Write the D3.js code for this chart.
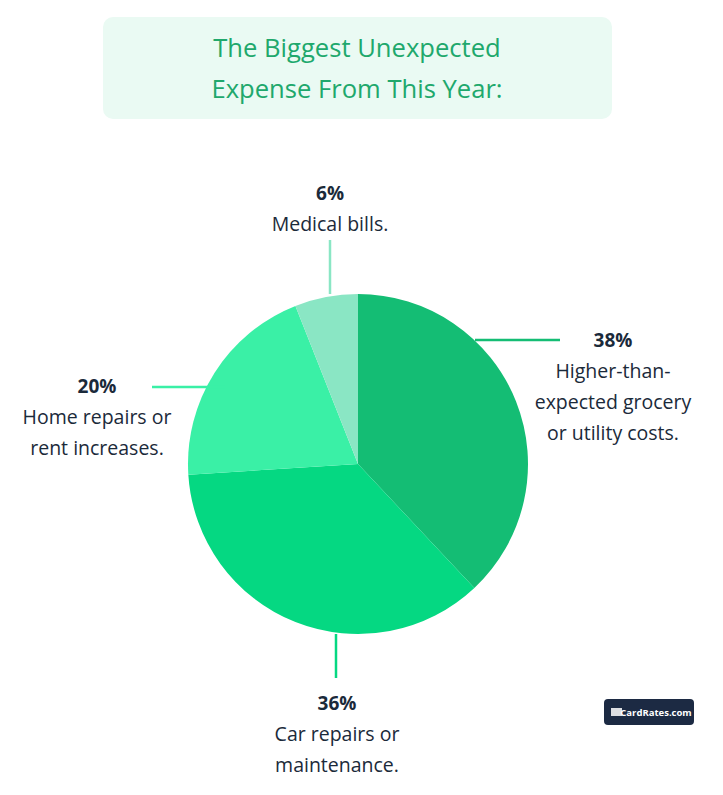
<!DOCTYPE html><html><head><meta charset="utf-8">
<script src="https://cdn.jsdelivr.net/npm/d3@7"></script>
<style>body{margin:0;background:#fff}svg{display:block}</style></head><body>
<script>
const categories=["Higher-than-expected grocery or utility costs.","Car repairs or maintenance.","Home repairs or rent increases.","Medical bills."];
const values=[38,36,20,6];
const labelLines=[["Higher-than-","expected grocery","or utility costs."],["Car repairs or","maintenance."],["Home repairs or","rent increases."],["Medical bills."]];
const colors=["#14bd74","#05d882","#3af0a6","#8ae6c4"];
const W=723,H=795,cx=358,cy=464,R=170;
const svg=d3.select("body").append("svg").attr("width",W).attr("height",H);
svg.append("rect").attr("x",103).attr("y",17).attr("width",509).attr("height",102).attr("rx",10).attr("fill","#eafaf3");
svg.append("text").attr("x",357).attr("y",57).attr("text-anchor","middle").attr("font-family","Open Sans").attr("font-size",25.6).attr("fill","#20a86c").text("The Biggest Unexpected");
svg.append("text").attr("x",357).attr("y",98).attr("text-anchor","middle").attr("font-family","Open Sans").attr("font-size",25.6).attr("fill","#20a86c").text("Expense From This Year:");
const pie=d3.pie().sort(null)(values);
const arc=d3.arc().innerRadius(0).outerRadius(R);
const g=svg.append("g").attr("transform",`translate(${cx},${cy})`);
g.selectAll("path").data(pie).join("path").attr("d",arc).attr("fill",(d,i)=>colors[i]);
const lead=[[[117,-124],[202,-124]],[[-22,170],[-22,214]],[[-133,-77],[-206,-77]],[[-28,-170],[-28,-224]]];
const lab=[[255,-124],[-21,239],[-261,-78],[-28,-271]];
lead.forEach((l,i)=>g.append("line").attr("x1",l[0][0]).attr("y1",l[0][1]).attr("x2",l[1][0]).attr("y2",l[1][1]).attr("stroke",colors[i]).attr("stroke-width",2.5));
pie.forEach((d,i)=>{
 const t=g.append("g").attr("transform",`translate(${lab[i][0]},${lab[i][1]})`).attr("font-family","Open Sans").attr("fill","#1b2a3a").attr("text-anchor","middle");
 t.append("text").attr("y",7).attr("font-size",19).attr("font-weight",700).text(values[i]+"%");
 labelLines[i].forEach((s,j)=>t.append("text").attr("y",38+j*31).attr("font-size",19.5).text(s));
});
const lg=svg.append("g").attr("transform","translate(604,699)");
lg.append("rect").attr("width",90).attr("height",26).attr("rx",4).attr("fill","#1c2a43");
lg.append("text").attr("x",52).attr("y",17).attr("text-anchor","middle").attr("font-family","Open Sans").attr("font-weight",700).attr("font-size",9.5).attr("fill","#fff").text("CardRates.com");
lg.append("rect").attr("x",7).attr("y",9).attr("width",11).attr("height",8).attr("fill","#fff").attr("opacity",0.85);
</script></body></html>
